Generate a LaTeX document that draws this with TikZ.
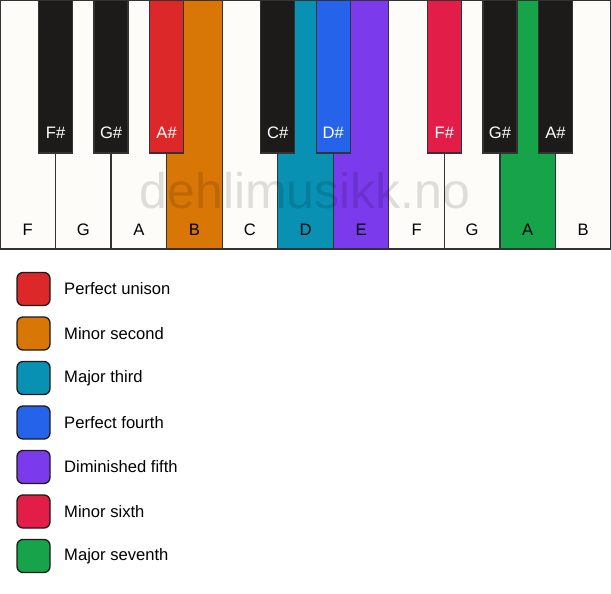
\documentclass[tikz,border=0pt]{standalone}
\usepackage{fontspec}
\setmainfont{Liberation Sans}
\definecolor{keywhite}{HTML}{FDFCF9}
\definecolor{keyblack}{HTML}{1C1B1A}
\definecolor{keyline}{HTML}{333333}
\definecolor{unison}{HTML}{DC2828}
\definecolor{minsecond}{HTML}{D97706}
\definecolor{majthird}{HTML}{0891B2}
\definecolor{perfourth}{HTML}{2563EB}
\definecolor{dimfifth}{HTML}{7C3AED}
\definecolor{minsixth}{HTML}{E11D48}
\definecolor{majseventh}{HTML}{16A34A}
\begin{document}
\begin{tikzpicture}[x=1pt,y=-1pt,
	whitekey/.style={draw=keyline, line width=1.3pt, anchor=north west, minimum width=55.545pt, minimum height=249pt, inner sep=0pt, outer sep=0pt},
	blackkey/.style={draw=keyline, line width=1.3pt, anchor=north, minimum width=34pt, minimum height=153pt, inner sep=0pt, outer sep=0pt},
	keyname/.style={font=\fontsize{16.6}{19}\selectfont, inner sep=0pt},
	swatch/.style={draw=keyblack, line width=1.3pt, rounded corners=6pt, minimum size=33pt, inner sep=0pt},
	legendtext/.style={font=\fontsize{16.6}{19}\selectfont, anchor=west, inner sep=0pt}]
	\useasboundingbox (0,0) rectangle (611,594);
	\fill[white] (0,0) rectangle (611,594);
	% white keys
	\foreach \n/\col [count=\i from 0] in {F/keywhite, G/keywhite, A/keywhite, B/minsecond, C/keywhite, D/majthird, E/dimfifth, F/keywhite, G/keywhite, A/majseventh, B/keywhite} {
		\node[whitekey, fill=\col] (w\i) at (\i*55.545,0) {};
		\node[keyname] at ([yshift=19pt]w\i.south) {\n};
	}
	% black keys
	\foreach \n/\b/\col in {F\#/1/keyblack, G\#/2/keyblack, A\#/3/unison, C\#/5/keyblack, D\#/6/perfourth, F\#/8/minsixth, G\#/9/keyblack, A\#/10/keyblack} {
		\node[blackkey, fill=\col] (b\b) at (w\b.north west) {};
		\node[keyname, text=white] at ([yshift=20pt]b\b.south) {\n};
	}
	\node[font=\fontsize{50}{58}\selectfont, text=black, text opacity=0.12] (mark) at (305,191) {dehlimusikk.no};
	% legend
	\foreach \c/\t [count=\k from 0] in {unison/Perfect unison, minsecond/Minor second, majthird/Major third, perfourth/Perfect fourth, dimfifth/Diminished fifth, minsixth/Minor sixth, majseventh/Major seventh} {
		\node[swatch, fill=\c] (s\k) at (33.5,289+\k*44.5) {};
		\node[legendtext] (t\k) at (64,289+\k*44.5) {\t};
	}
\end{tikzpicture}
\end{document}
